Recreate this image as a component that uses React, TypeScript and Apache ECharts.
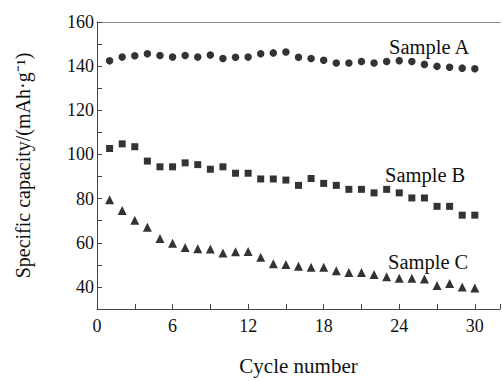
import React, { useEffect, useRef } from "react";
import * as echarts from "echarts";

const cycles = Array.from({ length: 30 }, (_, i) => i + 1);

const sampleA = [142.4, 144.1, 144.7, 145.6, 144.8, 144.1, 144.8, 144.1, 145.0, 143.5,
  144.0, 144.1, 145.6, 146.0, 146.4, 144.0, 143.5, 142.7, 141.4, 141.4,
  142.1, 141.4, 142.1, 142.5, 142.1, 140.8, 139.9, 139.5, 139.1, 138.8];
const sampleB = [102.7, 104.8, 103.5, 97.0, 94.4, 94.4, 96.2, 95.4, 93.3, 94.4,
  91.5, 91.5, 88.9, 88.9, 88.4, 86.0, 89.1, 86.9, 86.0, 84.2,
  84.2, 82.6, 84.2, 82.6, 80.3, 80.3, 76.5, 76.5, 72.5, 72.5];
const sampleC = [79.5, 74.6, 70.2, 67.0, 61.9, 59.8, 57.9, 57.3, 57.2, 55.4,
  55.9, 56.1, 53.4, 50.5, 50.2, 49.4, 48.9, 48.9, 47.3, 46.5,
  46.5, 45.6, 44.6, 43.9, 43.9, 43.6, 40.7, 41.6, 40.0, 39.5];

const seriesNames = ["Sample A", "Sample B", "Sample C"];
const xTitle = "Cycle number";
const yTitle = "Specific capacity/(mAh·g⁻¹)";

const FONT = "Liberation Serif";

export default function App() {
  const ref = useRef<HTMLDivElement>(null);
  useEffect(() => {
    if (!ref.current) return;
    const chart = echarts.init(ref.current, undefined, { renderer: "svg" });
    const axisColor = "#444";
    const pair = (vals: number[]) => vals.map((v, i) => [cycles[i], v]);
    chart.setOption({
      animation: false,
      backgroundColor: "#fff",
      textStyle: { fontFamily: FONT },
      grid: { left: 97, top: 22, width: 409, height: 300, containLabel: false },
      xAxis: [
        {
          type: "value",
          min: 0,
          max: 32,
          interval: 3,
          position: "bottom",
          name: xTitle,
          nameLocation: "middle",
          nameGap: 46,
          nameTextStyle: { fontFamily: FONT, fontSize: 21, color: "#111" },
          axisLine: { show: true, lineStyle: { color: axisColor, width: 1 } },
          axisTick: { show: true, inside: true, length: 5, lineStyle: { color: axisColor } },
          axisLabel: {
            fontFamily: FONT, fontSize: 18, color: "#111", margin: 8,
            formatter: (v: number) => (v % 6 === 0 && v <= 30 ? String(v) : ""),
          },
          splitLine: { show: false },
        },
        {
          type: "value",
          min: 0,
          max: 32,
          position: "top",
          axisLine: { show: true, lineStyle: { color: "#888", width: 1 } },
          axisTick: { show: false },
          axisLabel: { show: false },
          splitLine: { show: false },
        },
      ],
      yAxis: {
        type: "value",
        min: 30,
        max: 160,
        interval: 10,
        name: yTitle,
        nameLocation: "middle",
        nameGap: 64,
        nameTextStyle: { fontFamily: FONT, fontSize: 20, color: "#111" },
        axisLine: { show: true, lineStyle: { color: axisColor, width: 1 } },
        axisTick: { show: true, inside: true, length: 5, lineStyle: { color: axisColor } },
        axisLabel: {
          fontFamily: FONT, fontSize: 18, color: "#111", margin: 3,
          formatter: (v: number) => (v >= 40 && v % 20 === 0 ? String(v) : ""),
        },
        splitLine: { show: false },
      },
      series: [
        {
          name: seriesNames[0], type: "scatter", data: pair(sampleA),
          symbol: "circle", symbolSize: 7.5, itemStyle: { color: "#000" },
        },
        {
          name: seriesNames[1], type: "scatter", data: pair(sampleB),
          symbol: "rect", symbolSize: 7, itemStyle: { color: "#000" },
        },
        {
          name: seriesNames[2], type: "scatter", data: pair(sampleC),
          symbol: "triangle", symbolSize: 9, itemStyle: { color: "#000" },
        },
      ],
      graphic: [
        { type: "text", left: 389, top: 36, style: { text: seriesNames[0], fontFamily: FONT, fontSize: 20.5, fill: "#111" } },
        { type: "text", left: 385, top: 164, style: { text: seriesNames[1], fontFamily: FONT, fontSize: 20.5, fill: "#111" } },
        { type: "text", left: 388, top: 251, style: { text: seriesNames[2], fontFamily: FONT, fontSize: 20.5, fill: "#111" } },
      ],
    });
    return () => chart.dispose();
  }, []);
  return (
    <div
      ref={ref}
      style={{ position: "absolute", left: 0, top: 0, width: 503, height: 381 }}
    />
  );
}
